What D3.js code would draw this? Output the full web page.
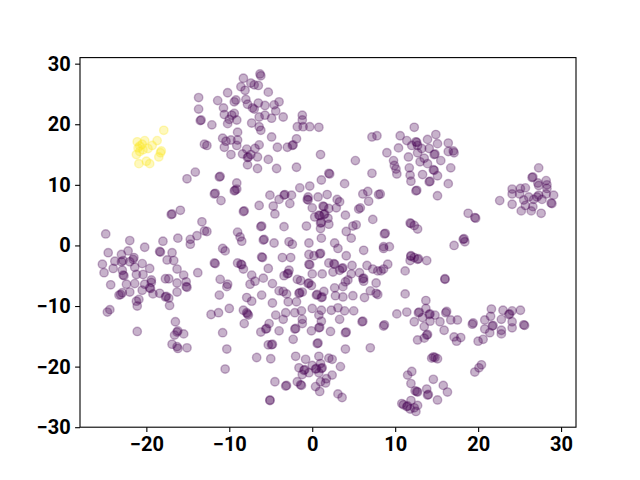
<!DOCTYPE html>
<html>
<head>
<meta charset="utf-8">
<script src="https://cdn.jsdelivr.net/npm/d3@7"></script>
<style>
  body { margin: 0; background: #fff; }
  svg { display: block; }
  .tick text { font-family: Roboto, sans-serif; font-weight: bold; font-size: 20px; fill: #000; }
</style>
</head>
<body>
<div id="chart"></div>
<script>
const xTicks = [-20, -10, 0, 10, 20, 30];
const yTicks = [-30, -20, -10, 0, 10, 20, 30];

// cluster with label 1 (yellow)
const yellowPts = [
  [-17.9,19.0],[-21.1,17.1],[-20.2,17.3],[-18.7,17.3],[-19.3,16.5],[-20.8,16.4],[-20.5,16.7],
  [-19.8,16.0],[-18.2,15.6],[-18.3,15.3],[-20.8,15.5],[-21.2,15.0],[-18.5,14.6],[-20.9,13.5],
  [-20.0,13.9],[-19.6,13.5],[-21.0,16.1],[-20.4,15.8]
];

// everything else (label 0, purple)
const purplePts = [
  [-13.7,24.4],[-13.7,22.5],[-13.5,20.6],[-13.4,20.7],[-13.0,16.7],[-14.1,12.1],[-15.1,11.0],
  [-6.3,28.3],[-6.2,28.0],[-8.3,27.6],[-7.4,26.8],[-8.6,26.2],[-7.0,26.5],[-6.5,26.4],[-8.1,25.6],
  [-10.2,25.2],[-5.3,25.3],[-11.4,23.9],[-9.2,24.0],[-9.4,23.7],[-8.0,24.1],[-7.8,23.3],[-6.5,23.5],
  [-7.2,22.7],[-7.0,22.5],[-5.7,23.1],[-4.6,23.2],[-4.0,23.7],[-4.4,22.2],[-10.7,22.7],[-10.6,21.6],
  [-9.4,21.8],[-9.7,21.5],[-10.0,20.8],[-10.2,20.1],[-9.1,20.7],[-12.1,19.9],[-7.3,20.2],[-6.4,21.2],
  [-5.7,21.5],[-6.4,19.6],[-6.2,19.0],[-4.9,21.0],[-3.5,21.2],[-1.2,21.5],[-1.2,20.7],[-1.8,19.6],
  [-1.1,19.6],[-0.3,19.6],[0.8,19.5],[-9.0,18.7],[-10.8,17.7],[-10.4,17.2],[-9.8,17.4],[-9.0,17.4],
  [-4.9,17.9],[-1.9,17.6],[-12.7,16.5],[-10.6,16.2],[-9.1,16.5],[-7.9,15.9],[-6.9,16.0],[-6.4,16.6],
  [-4.2,16.2],[-3.0,16.2],[-2.4,16.5],[-2.3,16.6],[-9.8,15.0],[-8.4,15.1],[-7.8,14.5],[-7.7,14.6],
  [-7.4,15.0],[-6.6,14.6],[-7.8,13.3],[-6.6,12.7],[-5.3,14.2],[-4.3,12.7],[-1.9,12.9],[1.0,15.0],
  [-11.2,11.3],[-11.1,11.4],[-9.1,10.3],[1.1,10.8],[2.0,11.9],[2.1,11.8],
  [12.3,19.5],[7.2,17.9],[7.8,18.1],[10.6,18.1],[11.4,17.3],[12.5,17.1],[12.6,17.0],[12.7,16.5],
  [12.0,16.5],[13.9,17.5],[14.9,18.3],[15.1,16.8],[16.4,16.9],[10.4,16.1],[9.0,15.3],[13.2,16.0],
  [14.1,16.0],[11.6,14.6],[12.7,15.3],[13.5,14.4],[14.7,15.0],[14.8,15.1],[15.5,14.0],[16.4,15.5],
  [9.8,14.0],[9.9,13.2],[10.1,12.6],[10.2,11.8],[5.2,14.0],[11.7,12.8],[13.0,13.8],[13.9,13.5],
  [14.7,12.4],[14.6,12.5],[16.7,12.8],[7.2,11.9],[11.8,11.6],[13.3,11.7],[15.1,11.5],[14.1,10.5],
  [14.2,10.6],[3.9,10.2],[11.9,10.6],[16.4,10.2],
  [17.1,15.3],[17.0,15.6],[27.3,12.8],[26.5,11.2],[26.6,11.3],[28.2,10.7],[27.2,10.3],
  [24.1,9.3],[25.1,9.4],[25.7,9.5],[27.3,9.9],[28.3,10.0],[28.3,9.4],[24.1,8.5],[25.0,8.5],
  [26.1,8.0],[27.3,8.3],[27.1,8.0],[28.2,8.5],[29.1,8.3],[25.5,7.5],[26.7,7.6],[27.7,7.6],
  [28.8,7.0],[28.9,6.9],[22.6,7.4],[24.1,6.8],[25.7,6.6],[26.6,6.4],[25.2,5.7],[26.4,5.7],
  [27.6,5.3],[18.8,5.3],[19.6,4.6],[19.7,4.5],[17.1,0.0],[18.2,1.0],[18.3,1.1],[18.4,0.6],
  [-16.9,5.2],[-17.0,5.1],[-15.9,5.8],[-13.3,3.9],[-13.0,2.4],[-13.9,1.6],[-14.7,1.0],[-14.7,0.2],
  [-16.2,1.2],[-18.0,0.7],[-24.9,1.9],[-22.0,0.8],[-20.2,-0.3],[-24.6,-1.2],[-18.4,-1.0],[-18.3,-1.1],
  [-16.9,-1.2],[-23.0,-1.5],[-22.2,-0.9],[-21.5,-2.0],[-21.6,-2.3],[-25.3,-3.1],[-23.8,-2.6],
  [-23.0,-2.7],[-22.8,-2.5],[-22.0,-2.7],[-20.5,-3.0],[-17.5,-2.4],[-16.7,-2.5],[-25.1,-4.5],
  [-24.0,-3.8],[-22.9,-4.1],[-22.8,-4.9],[-22.7,-5.0],[-21.4,-3.6],[-21.2,-4.8],[-20.4,-4.8],
  [-19.6,-3.8],[-16.3,-3.9],[-15.5,-4.9],[-13.8,-4.5],[-17.7,-5.5],[-17.3,-5.5],[-19.4,-5.7],
  [-19.4,-6.1],[-24.3,-6.5],[-22.4,-6.4],[-21.4,-6.3],[-20.2,-6.4],[-16.3,-6.2],[-15.2,-6.0],
  [-15.2,-6.8],[-15.1,-6.9],[-19.6,-7.0],[-19.5,-7.1],[-20.5,-7.4],[-22.0,-7.7],[-22.9,-7.8],
  [-23.1,-8.1],[-23.3,-8.2],[-19.2,-8.0],[-18.4,-7.9],[-17.7,-8.5],[-17.6,-8.4],[-17.3,-8.7],
  [-16.3,-7.7],[-20.9,-8.9],[-21.2,-9.2],[-17.2,-9.9],
  [-24.7,-11.0],[-24.4,-10.6],[-21.1,-10.0],[-21.1,-14.2],[-16.5,-12.6],[-16.3,-14.3],[-16.2,-14.1],
  [-16.6,-14.8],[-15.5,-14.6],[-16.9,-16.3],[-16.3,-16.7],[-16.2,-17.0],[-15.1,-16.9],
  [-9.1,9.3],[-9.4,9.0],[-9.3,9.1],[-11.8,8.5],[-11.7,8.6],[-11.0,7.4],[-6.4,6.6],[-4.7,6.5],
  [-4.5,5.2],[-8.2,5.7],[-8.3,5.6],[-5.1,8.3],[-4.0,7.6],[-3.4,8.3],[-3.3,8.4],[-2.5,8.3],
  [-2.7,6.9],[-1.5,9.5],[-0.3,9.8],[-0.5,8.0],[-0.6,7.6],[-0.5,7.5],[0.7,8.0],[1.8,8.4],
  [0.0,6.2],[1.3,6.5],[1.4,6.4],[1.4,5.1],[1.5,5.2],[0.8,5.0],[0.9,4.9],[0.3,4.7],[1.9,4.5],
  [-0.7,3.2],[1.0,3.7],[1.1,3.8],[1.0,2.8],[2.0,3.5],[-3.4,3.1],[-6.2,3.1],[-6.1,3.2],[-12.7,2.3],
  [-9.0,2.2],[-8.7,1.4],[-8.5,0.7],[-5.9,0.9],[-5.8,1.0],[-4.6,0.4],[-2.8,0.6],[-2.4,0.2],
  [-0.4,0.4],[1.1,1.2],[-10.8,-0.5],[-10.5,-0.9],[-6.1,-1.9],[-6.0,-2.0],[-3.6,-2.0],[-2.6,-2.0],
  [-0.4,-1.5],[0.9,-1.4],[1.0,-1.3],[0.2,-1.7],[-11.8,-2.9],[-11.7,-3.0],[-9.0,-2.9],[-8.6,-3.1],
  [-8.5,-3.2],[-8.3,-3.9],[-5.3,-3.8],[-2.8,-4.1],[-3.0,-4.7],[-2.9,-4.6],[-3.4,-5.0],[-0.4,-3.1],
  [-0.3,-3.2],[0.0,-4.7],[1.2,-4.7],[-7.3,-4.9],[-11.1,-5.6],[-10.2,-6.4],[-10.3,-6.8],[-6.9,-5.9],
  [-5.9,-5.4],[-7.5,-6.4],[-4.8,-6.3],[-1.8,-5.6],[-1.4,-5.8],[-0.5,-6.3],[-0.4,-6.2],[-0.1,-6.6],
  [-11.2,-8.2],[-7.9,-8.6],[-7.3,-9.2],[-6.1,-8.2],[-4.0,-7.5],[-3.5,-7.6],[-3.1,-8.0],[-1.6,-7.9],
  [-1.5,-7.8],[-1.2,-7.7],[0.5,-8.2],[0.6,-8.1],[1.1,-8.6],[1.2,-8.5],[1.4,-7.6],[-4.8,-9.5],
  [-2.9,-9.3],[-1.9,-9.3],
  [-12.2,-11.4],[-11.3,-11.1],[-10.0,-10.4],[-8.3,-10.7],[-7.9,-11.1],[-7.8,-11.3],[-7.7,-11.5],
  [-8.2,-12.9],[-3.2,-11.1],[-3.5,-12.2],[-2.1,-11.1],[-1.3,-10.8],[-1.2,-12.2],[-1.2,-12.9],
  [0.0,-10.4],[1.1,-10.7],[0.8,-11.5],[1.1,-12.5],[0.8,-13.6],[0.9,-13.5],[-0.1,-14.1],[-5.2,-12.9],
  [-4.4,-11.5],[-6.2,-14.3],[-5.6,-13.8],[-5.5,-13.7],[-4.0,-14.1],[-2.1,-13.8],[-2.0,-13.7],
  [-10.8,-14.4],[-2.3,-15.5],[-5.3,-16.4],[-4.9,-16.4],[-4.8,-16.3],[0.6,-16.2],[0.7,-16.1],
  [-10.3,-17.1],[-6.7,-18.5],[-5.0,-18.7],[-2.0,-18.3],[0.8,-18.3],[-0.8,-18.8],[0.0,-19.8],
  [1.0,-19.5],[-1.6,-20.2],[-1.0,-20.6],[-0.9,-20.5],[-1.2,-21.3],[-0.4,-21.0],[0.4,-20.4],
  [0.5,-20.3],[0.8,-21.0],[1.1,-20.3],[1.2,-20.2],[1.7,-22.0],[1.0,-22.5],[1.6,-22.7],[0.4,-23.3],
  [0.9,-24.1],[-1.8,-22.5],[-1.4,-23.0],[-1.3,-23.1],[-10.5,-20.4],[-4.5,-22.5],[-3.2,-23.2],
  [-3.1,-23.1],[-5.1,-25.5],[-5.1,-25.6],[2.0,-18.6],
  [12.5,9.0],[12.6,9.1],[15.1,8.2],[3.0,7.6],[3.3,7.2],[6.1,8.5],[6.7,8.9],[8.0,8.4],[8.2,8.5],
  [6.8,7.3],[2.0,6.1],[2.9,6.2],[4.0,5.0],[5.8,6.2],[5.6,6.0],[7.3,4.3],[5.3,3.4],[4.9,3.2],
  [4.1,2.3],[4.7,1.2],[2.7,0.4],[3.1,-0.5],[8.7,1.9],[8.8,2.0],[11.9,3.6],[11.8,3.7],[12.3,3.3],
  [12.7,2.7],[8.6,-0.5],[8.6,-0.2],[9.3,-0.2],[6.2,-0.8],[4.1,-1.7],[2.6,-3.0],[2.7,-3.1],
  [2.0,-2.9],[3.6,-3.8],[3.7,-3.7],[3.3,-4.1],[2.5,-4.4],[4.8,-3.3],[4.7,-4.7],[6.6,-3.3],
  [7.3,-3.9],[7.9,-4.2],[8.3,-4.2],[8.6,-3.9],[9.1,-3.1],[5.7,-4.5],[6.1,-5.5],[6.2,-5.4],
  [6.2,-5.9],[4.3,-5.7],[4.0,-6.0],[7.7,-6.2],[3.7,-6.8],[2.7,-7.0],[2.8,-8.3],[3.7,-8.5],
  [4.9,-8.3],[6.3,-8.6],[7.0,-7.5],[7.7,-7.9],[7.9,-8.1],[11.2,-8.0],[11.9,-1.7],[11.9,-1.8],
  [12.3,-2.0],[12.7,-2.3],[12.8,-2.2],[11.8,-2.5],[13.8,-2.5],[11.2,-4.2],[16.0,-5.6],[16.0,-5.5],
  [13.7,-9.1],
  [2.3,-10.7],[3.1,-10.3],[3.9,-10.8],[5.0,-10.8],[3.3,-12.2],[6.0,-12.6],[6.1,-12.5],[2.2,-14.2],
  [4.0,-14.4],[4.1,-14.3],[8.6,-13.3],[8.7,-13.1],[10.2,-11.3],[11.4,-11.0],[12.8,-11.1],
  [12.9,-11.0],[13.7,-10.4],[14.1,-11.4],[14.2,-11.3],[14.8,-11.5],[16.1,-11.1],[16.2,-10.9],
  [13.3,-11.9],[12.3,-12.6],[14.2,-12.5],[15.4,-12.6],[13.5,-13.4],[15.9,-14.0],[16.7,-12.3],
  [4.0,-17.1],[7.0,-16.9],[13.8,-14.8],[13.9,-14.7],[13.5,-15.3],[12.7,-15.6],[2.4,-18.8],
  [3.4,-20.0],[2.4,-21.4],[3.1,-24.5],[3.6,-25.1],[14.6,-18.4],[14.8,-18.5],[14.4,-18.6],
  [15.1,-18.7],[12.0,-20.8],[11.5,-21.4],[11.9,-22.8],[14.6,-22.1],[12.4,-24.0],[12.7,-24.2],
  [12.6,-24.1],[13.8,-23.7],[13.9,-24.7],[14.0,-24.6],[15.1,-25.5],[15.8,-23.1],[16.3,-24.2],
  [11.9,-25.6],[10.8,-26.1],[11.0,-26.3],[11.4,-26.6],[11.5,-26.5],[11.8,-27.0],[12.3,-26.8],
  [12.7,-26.4],[12.5,-27.4],
  [21.6,-10.5],[23.0,-10.7],[24.1,-10.8],[25.1,-10.7],[21.5,-11.7],[23.7,-11.4],[23.8,-11.3],
  [22.8,-12.2],[24.1,-12.6],[20.8,-12.3],[19.4,-12.8],[19.3,-13.0],[17.5,-12.3],[21.7,-13.3],
  [21.8,-13.2],[20.8,-13.8],[21.4,-14.4],[22.8,-14.0],[22.8,-14.6],[24.1,-13.6],[25.5,-13.1],
  [25.6,-13.2],[17.1,-15.1],[17.9,-15.2],[17.4,-15.8],[20.0,-15.8],[20.6,-15.5],[20.4,-19.7],
  [20.1,-20.2],[19.6,-20.9]
];

const width = 640, height = 480;
const margin = { top: 57.6, right: 64, bottom: 52.8, left: 80 };
const w = width - margin.left - margin.right;
const h = height - margin.top - margin.bottom;

const svg = d3.select("#chart").append("svg")
  .attr("width", width)
  .attr("height", height);

const g = svg.append("g")
  .attr("transform", `translate(${margin.left},${margin.top})`);

const x = d3.scaleLinear().domain([-28.0, 31.8]).range([0, w]);
const y = d3.scaleLinear().domain([-30.0, 31.0]).range([h, 0]);

const fmt = d => d < 0 ? "\u2212" + Math.abs(d) : String(d);

const points = purplePts.map(p => ({ p, c: "#440154" }))
  .concat(yellowPts.map(p => ({ p, c: "#fde725" })));

g.append("g").selectAll("circle")
  .data(points)
  .enter()
  .append("circle")
  .attr("cx", d => x(d.p[0]))
  .attr("cy", d => y(d.p[1]))
  .attr("r", 4.2)
  .attr("fill", d => d.c)
  .attr("fill-opacity", 0.3)
  .attr("stroke", d => d.c)
  .attr("stroke-opacity", 0.3)
  .attr("stroke-width", 1.4);

const xAxis = g.append("g")
  .attr("transform", `translate(0,${h})`)
  .call(d3.axisBottom(x).tickValues(xTicks).tickFormat(fmt).tickSize(4.9).tickPadding(4.5));
xAxis.select(".domain").remove();
xAxis.selectAll(".tick line").attr("stroke-width", 1.1);

const yAxis = g.append("g")
  .call(d3.axisLeft(y).tickValues(yTicks).tickFormat(fmt).tickSize(4.9).tickPadding(4.5));
yAxis.select(".domain").remove();
yAxis.selectAll(".tick line").attr("stroke-width", 1.1);

g.append("rect")
  .attr("width", w)
  .attr("height", h)
  .attr("fill", "none")
  .attr("stroke", "#000")
  .attr("stroke-width", 1.1);
</script>
</body>
</html>
